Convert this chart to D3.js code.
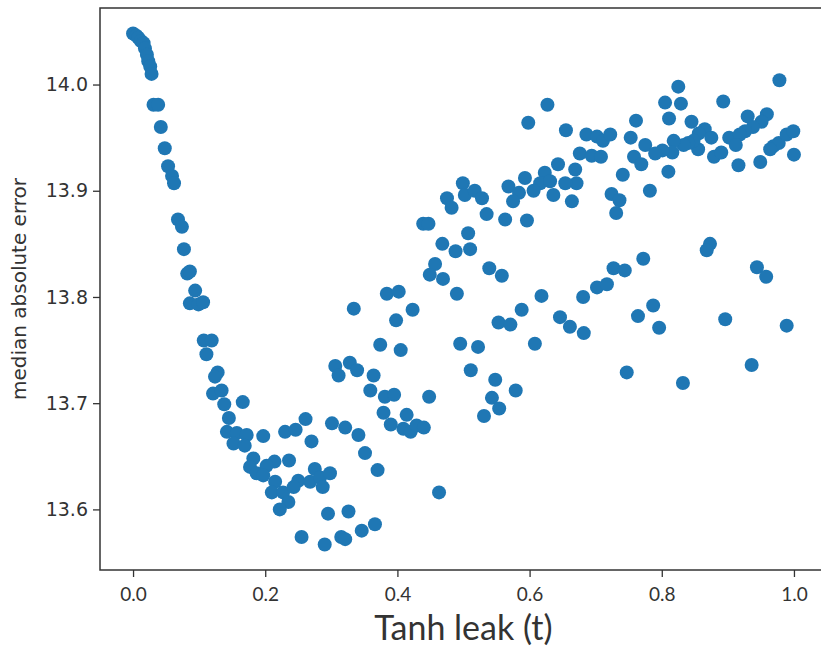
<!DOCTYPE html>
<html>
<head>
<meta charset="utf-8">
<script src="https://cdn.jsdelivr.net/npm/d3@7"></script>
<style>
  html, body { margin: 0; padding: 0; background: #ffffff; }
  svg { display: block; }
</style>
</head>
<body>
<svg id="chart" width="821" height="646"></svg>
<script>
// Tanh leak parameter (t) for each run
const tanhLeak = [
  0.000, 0.005, 0.008, 0.012, 0.016, 0.018, 0.021, 0.023, 0.026, 0.028,
  0.031, 0.038, 0.042, 0.048, 0.053, 0.059, 0.062, 0.068, 0.074, 0.077,
  0.082, 0.086, 0.094, 0.086, 0.099, 0.106, 0.107, 0.119, 0.111, 0.128,
  0.124, 0.121, 0.134, 0.138, 0.166, 0.145, 0.142, 0.157, 0.172, 0.152,
  0.169, 0.197, 0.230, 0.246, 0.261, 0.270, 0.182, 0.177, 0.214, 0.236,
  0.202, 0.187, 0.197, 0.215, 0.210, 0.227, 0.250, 0.275, 0.268, 0.235,
  0.222, 0.283, 0.287, 0.298, 0.243, 0.295, 0.326, 0.255, 0.290, 0.315,
  0.321, 0.346, 0.366, 0.301, 0.321, 0.341, 0.351, 0.370, 0.463, 0.334,
  0.384, 0.402, 0.490, 0.423, 0.398, 0.374, 0.405, 0.495, 0.511, 0.306,
  0.311, 0.328, 0.339, 0.364, 0.359, 0.381, 0.395, 0.448, 0.379, 0.414,
  0.390, 0.409, 0.420, 0.429, 0.440, 0.499, 0.502, 0.475, 0.482, 0.439,
  0.447, 0.507, 0.468, 0.488, 0.510, 0.457, 0.449, 0.469, 0.627, 0.598,
  0.655, 0.686, 0.702, 0.711, 0.722, 0.676, 0.694, 0.708, 0.643, 0.669,
  0.671, 0.623, 0.593, 0.616, 0.631, 0.654, 0.568, 0.584, 0.606, 0.636,
  0.575, 0.664, 0.517, 0.528, 0.535, 0.563, 0.596, 0.539, 0.558, 0.618,
  0.681, 0.702, 0.717, 0.727, 0.744, 0.772, 0.761, 0.753, 0.758, 0.769,
  0.775, 0.741, 0.724, 0.736, 0.731, 0.782, 0.588, 0.553, 0.571, 0.646,
  0.661, 0.682, 0.522, 0.608, 0.548, 0.579, 0.543, 0.554, 0.531, 0.747,
  0.764, 0.787, 0.796, 0.896, 0.989, 0.936, 0.832, 0.978, 0.825, 0.805,
  0.829, 0.893, 0.811, 0.845, 0.930, 0.959, 0.951, 0.938, 0.926, 0.902,
  0.918, 0.912, 0.865, 0.856, 0.875, 0.855, 0.848, 0.840, 0.833, 0.818,
  0.816, 0.801, 0.790, 0.879, 0.890, 0.916, 0.949, 0.969, 0.977, 0.989,
  0.999, 0.964, 1.000, 0.810, 0.873, 0.868, 0.944, 0.958
];

// Median absolute error reached for each run (same order as tanhLeak)
const medianAbsError = [
  14.048, 14.046, 14.044, 14.041, 14.039, 14.034, 14.028, 14.022, 14.017, 14.010,
  13.981, 13.981, 13.960, 13.940, 13.923, 13.914, 13.907, 13.873, 13.866, 13.845,
  13.822, 13.824, 13.806, 13.794, 13.793, 13.795, 13.759, 13.759, 13.746, 13.729,
  13.725, 13.709, 13.712, 13.699, 13.701, 13.686, 13.673, 13.672, 13.670, 13.662,
  13.660, 13.669, 13.673, 13.675, 13.685, 13.664, 13.648, 13.640, 13.645, 13.646,
  13.641, 13.634, 13.632, 13.626, 13.616, 13.616, 13.627, 13.638, 13.626, 13.607,
  13.600, 13.630, 13.621, 13.634, 13.621, 13.596, 13.598, 13.574, 13.567, 13.574,
  13.572, 13.580, 13.586, 13.681, 13.677, 13.670, 13.653, 13.637, 13.616, 13.789,
  13.803, 13.805, 13.803, 13.788, 13.778, 13.755, 13.750, 13.756, 13.731, 13.735,
  13.726, 13.738, 13.731, 13.726, 13.712, 13.706, 13.708, 13.706, 13.691, 13.689,
  13.680, 13.676, 13.673, 13.679, 13.677, 13.907, 13.896, 13.893, 13.884, 13.869,
  13.869, 13.860, 13.850, 13.843, 13.845, 13.831, 13.821, 13.817, 13.981, 13.964,
  13.957, 13.953, 13.951, 13.947, 13.953, 13.935, 13.933, 13.932, 13.925, 13.920,
  13.907, 13.917, 13.912, 13.907, 13.909, 13.907, 13.904, 13.898, 13.900, 13.896,
  13.890, 13.890, 13.900, 13.893, 13.878, 13.873, 13.872, 13.827, 13.820, 13.801,
  13.800, 13.809, 13.812, 13.827, 13.825, 13.836, 13.966, 13.950, 13.932, 13.925,
  13.943, 13.915, 13.897, 13.891, 13.879, 13.900, 13.788, 13.776, 13.774, 13.781,
  13.772, 13.766, 13.753, 13.756, 13.722, 13.712, 13.705, 13.695, 13.688, 13.729,
  13.782, 13.792, 13.771, 13.779, 13.773, 13.736, 13.719, 14.004, 13.998, 13.983,
  13.982, 13.984, 13.968, 13.965, 13.970, 13.972, 13.965, 13.960, 13.956, 13.950,
  13.953, 13.943, 13.958, 13.954, 13.950, 13.939, 13.947, 13.945, 13.943, 13.947,
  13.936, 13.938, 13.935, 13.932, 13.936, 13.924, 13.927, 13.942, 13.945, 13.953,
  13.956, 13.939, 13.934, 13.918, 13.850, 13.844, 13.828, 13.819
];

const xTickValues = [0.0, 0.2, 0.4, 0.6, 0.8, 1.0];
const yTickValues = [13.6, 13.7, 13.8, 13.9, 14.0];
const xTitle = "Tanh leak (t)";
const yTitle = "median absolute error";

const points = tanhLeak.map((t, i) => ({ t, err: medianAbsError[i] }));

const svg = d3.select("#chart");
const frame = { left: 100, right: 827, top: 8, bottom: 570 };

// Axis limits padded by 5% of the data span on each side
const xExtent = [0, 1];
const xPad = (xExtent[1] - xExtent[0]) * 0.05;
const x = d3.scaleLinear()
  .domain([xExtent[0] - xPad, xExtent[1] + xPad])
  .range([frame.left, frame.right]);

const yExtent = d3.extent(medianAbsError);
const yPad = (yExtent[1] - yExtent[0]) * 0.05;
const y = d3.scaleLinear()
  .domain([yExtent[0] - yPad, yExtent[1] + yPad])
  .range([frame.bottom, frame.top]);

const axisColor = "#333333";
const fmt = d3.format(".1f");

// Scatter points
svg.append("g")
  .selectAll("circle")
  .data(points)
  .join("circle")
  .attr("cx", d => x(d.t))
  .attr("cy", d => y(d.err))
  .attr("r", 7)
  .attr("fill", "#1f77b4");

// Bottom axis
const gx = svg.append("g")
  .attr("transform", `translate(0,${frame.bottom})`)
  .call(d3.axisBottom(x).tickValues(xTickValues).tickFormat(fmt).tickSize(7).tickPadding(11));
gx.select(".domain").remove();
gx.selectAll(".tick line").attr("stroke", axisColor).attr("stroke-width", 1.3);
gx.selectAll(".tick text")
  .attr("fill", "#333333")
  .style("font-family", "Lato, 'Open Sans', sans-serif")
  .style("font-size", "19px");

// Left axis
const gy = svg.append("g")
  .attr("transform", `translate(${frame.left},0)`)
  .call(d3.axisLeft(y).tickValues(yTickValues).tickFormat(fmt).tickSize(7).tickPadding(5));
gy.select(".domain").remove();
gy.selectAll(".tick line").attr("stroke", axisColor).attr("stroke-width", 1.3);
gy.selectAll(".tick text")
  .attr("fill", "#333333")
  .style("font-family", "'DejaVu Sans', sans-serif")
  .style("font-size", "19px");

// Plot frame (spines)
svg.append("rect")
  .attr("x", frame.left)
  .attr("y", frame.top)
  .attr("width", frame.right - frame.left)
  .attr("height", frame.bottom - frame.top)
  .attr("fill", "none")
  .attr("stroke", axisColor)
  .attr("stroke-width", 1.5);

// Axis titles
svg.append("text")
  .attr("x", (x(0) + x(1)) / 2)
  .attr("y", 640)
  .attr("text-anchor", "middle")
  .attr("fill", "#333333")
  .style("font-family", "Lato, 'Open Sans', sans-serif")
  .style("font-size", "34px")
  .text(xTitle);

// y title centred on the plot frame
svg.append("text")
  .attr("transform", `translate(26,${(frame.top + frame.bottom) / 2}) rotate(-90)`)
  .attr("text-anchor", "middle")
  .attr("fill", "#333333")
  .style("font-family", "'DejaVu Sans', sans-serif")
  .style("font-size", "20px")
  .text(yTitle);
</script>
</body>
</html>
